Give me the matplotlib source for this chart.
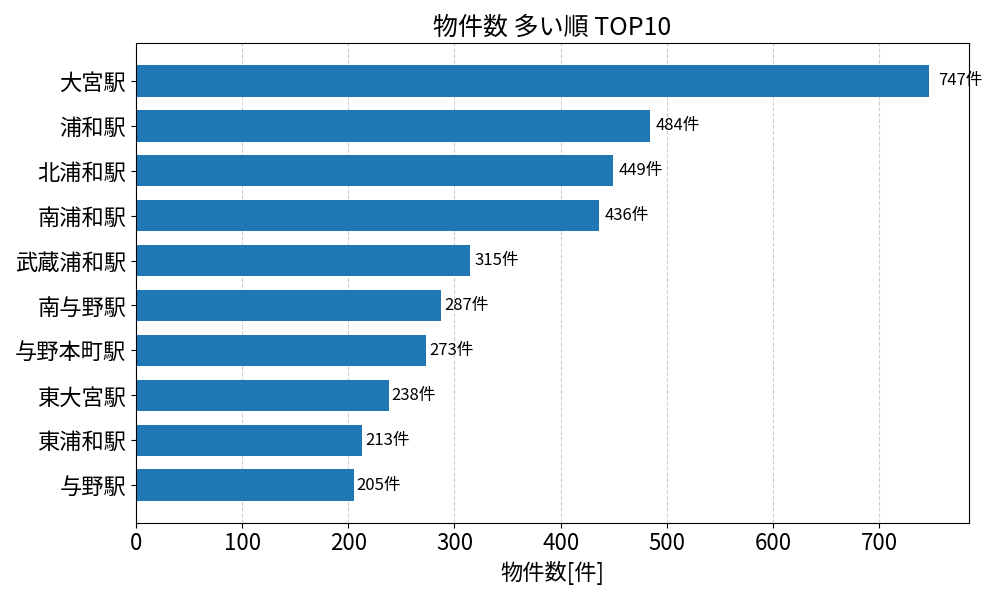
import matplotlib
matplotlib.use("Agg")
import matplotlib.pyplot as plt

plt.rcParams['font.family'] = ['Noto Sans CJK JP', 'DejaVu Sans']

stations = ['大宮駅', '浦和駅', '北浦和駅', '南浦和駅', '武蔵浦和駅',
            '南与野駅', '与野本町駅', '東大宮駅', '東浦和駅', '与野駅']
counts = [747, 484, 449, 436, 315, 287, 273, 238, 213, 205]

fig, ax = plt.subplots(figsize=(10, 6), dpi=100)

pos = list(range(len(stations)))
ax.barh(pos, counts, height=0.7, color='#1f77b4', zorder=2)
ax.set_yticks(pos)
ax.set_yticklabels(stations, fontsize=16)
ax.invert_yaxis()

for p, c in zip(pos, counts):
    ax.text(c * 1.012, p, f'{c}件', va='center', ha='left', fontsize=12)

ax.set_title('物件数 多い順 TOP10', fontsize=18)
ax.set_xlabel('物件数[件]', fontsize=16)
ax.tick_params(axis='x', labelsize=16)
ax.grid(axis='x', linestyle='--', alpha=0.6, zorder=0)

plt.tight_layout()
plt.savefig('out.png')
